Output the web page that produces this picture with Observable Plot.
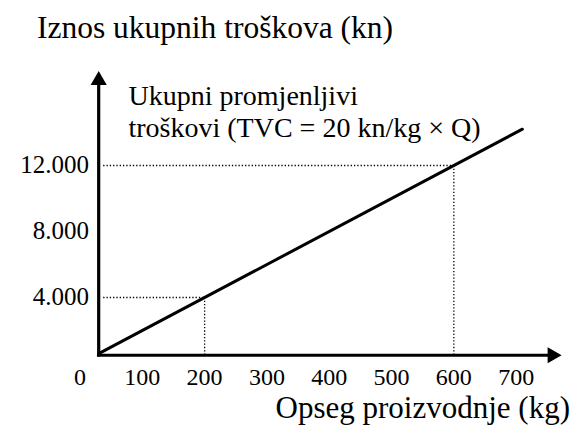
<!DOCTYPE html>
<html><head><meta charset="utf-8">
<script src="https://cdn.jsdelivr.net/npm/d3@7"></script>
<script src="https://cdn.jsdelivr.net/npm/@observablehq/plot@0.6"></script>
<style>body{margin:0;background:#fff}</style>
</head><body><div id="chart"></div>
<script>
const quantityTicks = [0, 100, 200, 300, 400, 500, 600, 700];
const costTicks = [4000, 8000, 12000];
const tvcLine = [{q: 30, c: 600}, {q: 710, c: 14200}];
const guidePoints = [{q: 200, c: 4000}, {q: 600, c: 12000}];
const axisOrigin = {q: 30, c: 500};
const axisEnds = {q: 772, c: 17700};
const title = "Iznos ukupnih troškova (kn)";
const xLabel = "Opseg proizvodnje (kg)";
const noteLines = ["Ukupni promjenljivi", "troškovi (TVC = 20 kn/kg × Q)"];

const fmt = d3.formatLocale({decimal: ",", thousands: ".", grouping: [3], currency: ["", " kn"]}).format(",d");
const font = "Liberation Serif, Times New Roman, serif";

const headQ = axisEnds.q - 14;
const headC = axisEnds.c - 545;

const chart = Plot.plot({
  width: 572, height: 426,
  marginTop: 66, marginRight: 6.5, marginBottom: 63, marginLeft: 79.5,
  x: {domain: [0, 780], axis: null},
  y: {domain: [0, 18000], axis: null},
  style: {fontFamily: font, background: "#fff", color: "#000"},
  marks: [
    // dotted guides
    Plot.ruleY(guidePoints, {y: "c", x1: axisOrigin.q + 8, x2: "q", stroke: "#000", strokeWidth: 1.3, strokeDasharray: "1.3,2"}),
    Plot.ruleX(guidePoints, {x: "q", y1: axisOrigin.c, y2: "c", stroke: "#000", strokeWidth: 1.3, strokeDasharray: "1.3,2"}),
    // axes
    Plot.ruleY([axisOrigin.c], {x1: axisOrigin.q - 2, x2: headQ, stroke: "#000", strokeWidth: 3.2}),
    Plot.ruleX([axisOrigin.q], {y1: axisOrigin.c - 100, y2: headC, stroke: "#000", strokeWidth: 3.2}),
    Plot.dot([{q: headQ, c: axisOrigin.c}], {x: "q", y: "c", symbol: "triangle", rotate: 90, fill: "#000", stroke: null, r: 6}),
    Plot.dot([{q: axisOrigin.q, c: headC}], {x: "q", y: "c", symbol: "triangle", fill: "#000", stroke: null, r: 6}),
    // TVC line
    Plot.line(tvcLine, {x: "q", y: "c", stroke: "#000", strokeWidth: 3}),
    // tick labels
    Plot.text(quantityTicks, {x: d => d, frameAnchor: "bottom", lineAnchor: "middle", dy: 14, text: d => String(d), fontSize: 24, fill: "#000"}),
    Plot.text(costTicks, {y: d => d, frameAnchor: "left", textAnchor: "end", lineAnchor: "middle", dx: 9, dy: -1, text: d => fmt(d), fontSize: 25, fill: "#000"}),
    // titles
    Plot.text([title], {frameAnchor: "top-left", textAnchor: "start", lineAnchor: "middle", dx: -43, dy: -38.5, text: d => d, fontSize: 31.5, fill: "#000"}),
    Plot.text([xLabel], {frameAnchor: "bottom-right", textAnchor: "end", lineAnchor: "middle", dx: 4, dy: 45, text: d => d, fontSize: 31, fill: "#000"}),
    Plot.text([noteLines[0]], {frameAnchor: "top-left", textAnchor: "start", lineAnchor: "middle", dx: 48.5, dy: 30, text: d => d, fontSize: 28, fill: "#000"}),
    Plot.text([noteLines[1]], {frameAnchor: "top-left", textAnchor: "start", lineAnchor: "middle", dx: 48.5, dy: 62, text: d => d, fontSize: 28, fill: "#000"})
  ]
});
document.getElementById("chart").appendChild(chart);
</script>
</body></html>
